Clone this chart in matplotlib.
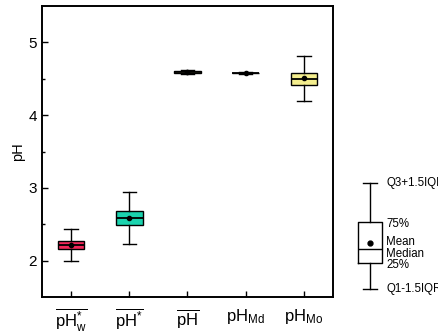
import matplotlib
matplotlib.use("Agg")
import matplotlib.pyplot as plt

plt.rcParams['font.family'] = ['Liberation Sans', 'DejaVu Sans']
plt.rcParams['mathtext.fontset'] = 'custom'
plt.rcParams['mathtext.rm'] = 'Liberation Sans'
plt.rcParams['mathtext.it'] = 'Liberation Sans'
plt.rcParams['mathtext.bf'] = 'Liberation Sans'

labels = [r'$\overline{\mathrm{pH}_\mathrm{w}^{*}}$', r'$\overline{\mathrm{pH}^{*}}$',
          r'$\overline{\mathrm{pH}}$', r'$\mathrm{pH}_\mathrm{Md}$', r'$\mathrm{pH}_\mathrm{Mo}$']
whislo = [2.00, 2.23, 4.565, 4.570, 4.19]
q1 = [2.16, 2.49, 4.575, 4.574, 4.42]
med = [2.215, 2.58, 4.59, 4.578, 4.50]
mean = [2.22, 2.585, 4.59, 4.578, 4.51]
q3 = [2.27, 2.68, 4.605, 4.582, 4.58]
whishi = [2.435, 2.94, 4.615, 4.586, 4.81]
colors = ['#F2285A', '#1BD3AE', '#F4EE8E', '#F4EE8E', '#F4EE8E']

key_stats = dict(whislo=1.0, q1=1.75, med=2.14, mean=2.3, q3=2.89, whishi=4.0)
key_labels = ['Q3+1.5IQR', '75%', 'Mean', 'Median', '25%', 'Q1-1.5IQR']
key_label_y = [4.0, 2.83, 2.33, 2.0, 1.69, 1.0]

fig = plt.figure(figsize=(4.39, 3.33), dpi=100)
ax = fig.add_axes([42/439, 1 - 297/333, (333-42)/439, (297-6)/333])

stats = []
for i in range(len(labels)):
    stats.append(dict(whislo=whislo[i], q1=q1[i], med=med[i], mean=mean[i],
                      q3=q3[i], whishi=whishi[i], fliers=[]))
bp = ax.bxp(stats, positions=range(1, 6), widths=0.46, patch_artist=True,
            showmeans=True, manage_ticks=False,
            boxprops=dict(linewidth=1.0, edgecolor='black'),
            medianprops=dict(color='black', linewidth=1.3),
            whiskerprops=dict(color='black', linewidth=1.0),
            capprops=dict(color='black', linewidth=1.0),
            capwidths=0.23,
            meanprops=dict(marker='o', markerfacecolor='black', markeredgecolor='black', markersize=3))
for patch, c in zip(bp['boxes'], colors):
    patch.set_facecolor(c)

ax.set_xlim(0.5, 5.5)
ax.set_ylim(1.5, 5.5)
ax.set_xticks(range(1, 6))
ax.set_xticklabels(labels, fontsize=12)
ax.set_yticks([2, 3, 4, 5])
ax.set_yticks([2.5, 3.5, 4.5], minor=True)
ax.tick_params(axis='both', which='both', direction='in')
ax.tick_params(axis='both', which='major', length=4, width=1)
ax.tick_params(axis='y', which='minor', length=2.5, width=1)
ax.tick_params(axis='y', labelsize=11)
ax.tick_params(axis='x', pad=7)
ax.set_ylabel('pH', fontsize=10.5)
ax.yaxis.set_label_coords(-0.058, 0.5)
for s in ax.spines.values():
    s.set_linewidth(1.4)

# key schematic
kax = fig.add_axes([350/439, 1 - 300/333, 40/439, 128/333])
kstat = dict(key_stats)
kstat['fliers'] = []
kax.bxp([kstat], positions=[0], widths=0.65, showmeans=True, manage_ticks=False,
        boxprops=dict(linewidth=1.0, color='black'),
        medianprops=dict(color='black', linewidth=1.0),
        whiskerprops=dict(color='black', linewidth=1.0),
        capprops=dict(color='black', linewidth=1.0),
        capwidths=0.38,
        meanprops=dict(marker='o', markerfacecolor='black', markeredgecolor='black', markersize=3.5))
kax.set_xlim(-0.55, 0.55)
kax.set_ylim(0.7, 4.3)
kax.axis('off')
for txt, yv in zip(key_labels, key_label_y):
    kax.text(0.45, yv, txt, fontsize=8.3, va='center', ha='left', clip_on=False)

fig.savefig('out.png', dpi=100)
